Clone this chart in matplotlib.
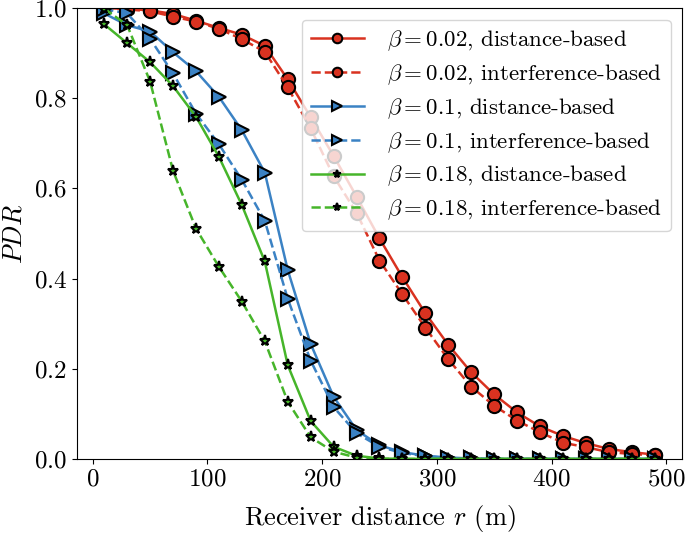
import matplotlib
matplotlib.use("Agg")
import matplotlib.pyplot as plt

plt.rcParams.update({
    "font.family": "serif",
    "font.serif": ["cmr10"],
    "mathtext.fontset": "cm",
    "axes.formatter.use_mathtext": True,
    "axes.unicode_minus": False,
})

# receiver distance r (m)
r = [10, 30, 50, 70, 90, 110, 130, 150, 170, 190, 210, 230, 250,
     270, 290, 310, 330, 350, 370, 390, 410, 430, 450, 470, 490]

pdr_002_dist = [1.0, 0.998, 0.995, 0.987, 0.972, 0.956, 0.941, 0.916, 0.842, 0.758,
                0.672, 0.582, 0.489, 0.403, 0.323, 0.253, 0.192, 0.143, 0.103, 0.072,
                0.051, 0.035, 0.022, 0.015, 0.0095]
pdr_002_intf = [1.0, 0.997, 0.993, 0.981, 0.970, 0.954, 0.931, 0.903, 0.824, 0.733,
                0.627, 0.546, 0.440, 0.365, 0.291, 0.221, 0.160, 0.118, 0.085, 0.059,
                0.036, 0.026, 0.015, 0.011, 0.008]

pdr_01_dist = [0.988, 0.962, 0.948, 0.902, 0.860, 0.803, 0.729, 0.635, 0.419, 0.255,
               0.138, 0.064, 0.030, 0.015, 0.007, 0.003, 0.001, 0.0, 0.0, 0.0,
               0.0, 0.0, 0.0, 0.0, 0.0]
pdr_01_intf = [0.998, 0.988, 0.932, 0.855, 0.766, 0.698, 0.619, 0.528, 0.355, 0.218,
               0.115, 0.057, 0.027, 0.013, 0.006, 0.002, 0.001, 0.0, 0.0, 0.0,
               0.0, 0.0, 0.0, 0.0, 0.0]

pdr_018_dist = [0.964, 0.922, 0.880, 0.827, 0.759, 0.670, 0.563, 0.438, 0.208, 0.084,
                0.027, 0.007, 0.001, 0.0, 0.0, 0.0, 0.0, 0.0, 0.0, 0.0,
                0.0, 0.0, 0.0, 0.0, 0.0]
pdr_018_intf = [0.999, 0.962, 0.837, 0.639, 0.511, 0.426, 0.349, 0.261, 0.127, 0.048,
                0.016, 0.003, 0.0, 0.0, 0.0, 0.0, 0.0, 0.0, 0.0, 0.0,
                0.0, 0.0, 0.0, 0.0, 0.0]

red = '#d93220'
blue = '#3b82c4'
green = '#46b52a'

fig = plt.figure(figsize=(6.85, 5.38), dpi=100)
ax = fig.add_axes([0.112, 0.147, 0.884, 0.838])

ax.plot(r, pdr_002_dist, '-o', color=red, lw=1.8, ms=9.5, mec='k', mew=1.5,
        label=r'$\beta=0.02$, distance-based')
ax.plot(r, pdr_002_intf, '--o', color=red, lw=1.8, ms=9.5, mec='k', mew=1.5,
        label=r'$\beta=0.02$, interference-based')
ax.plot(r, pdr_01_dist, '->', color=blue, lw=1.8, ms=10, mec='k', mew=1.5,
        label=r'$\beta=0.1$, distance-based')
ax.plot(r, pdr_01_intf, '-->', color=blue, lw=1.8, ms=10, mec='k', mew=1.5,
        label=r'$\beta=0.1$, interference-based')
ax.plot(r, pdr_018_dist, '-*', color=green, lw=1.8, ms=8, mec='k', mew=1.5,
        label=r'$\beta=0.18$, distance-based')
ax.plot(r, pdr_018_intf, '--*', color=green, lw=1.8, ms=8, mec='k', mew=1.5,
        label=r'$\beta=0.18$, interference-based')

ax.set_ylim(0.0, 1.0)
ax.set_xticks([0, 100, 200, 300, 400, 500])
ax.set_yticks([0.0, 0.2, 0.4, 0.6, 0.8, 1.0])
ax.tick_params(labelsize=18)
ax.set_xlabel(r'Receiver distance $r$ (m)', fontsize=19, labelpad=9)
ax.set_ylabel(r'$PDR$', fontsize=19, labelpad=5)

ax.legend(loc='upper right', fontsize=16.5, labelspacing=0.4, markerscale=0.72,
          handlelength=2.3, handletextpad=1.0)

fig.savefig('out.png', dpi=100)
